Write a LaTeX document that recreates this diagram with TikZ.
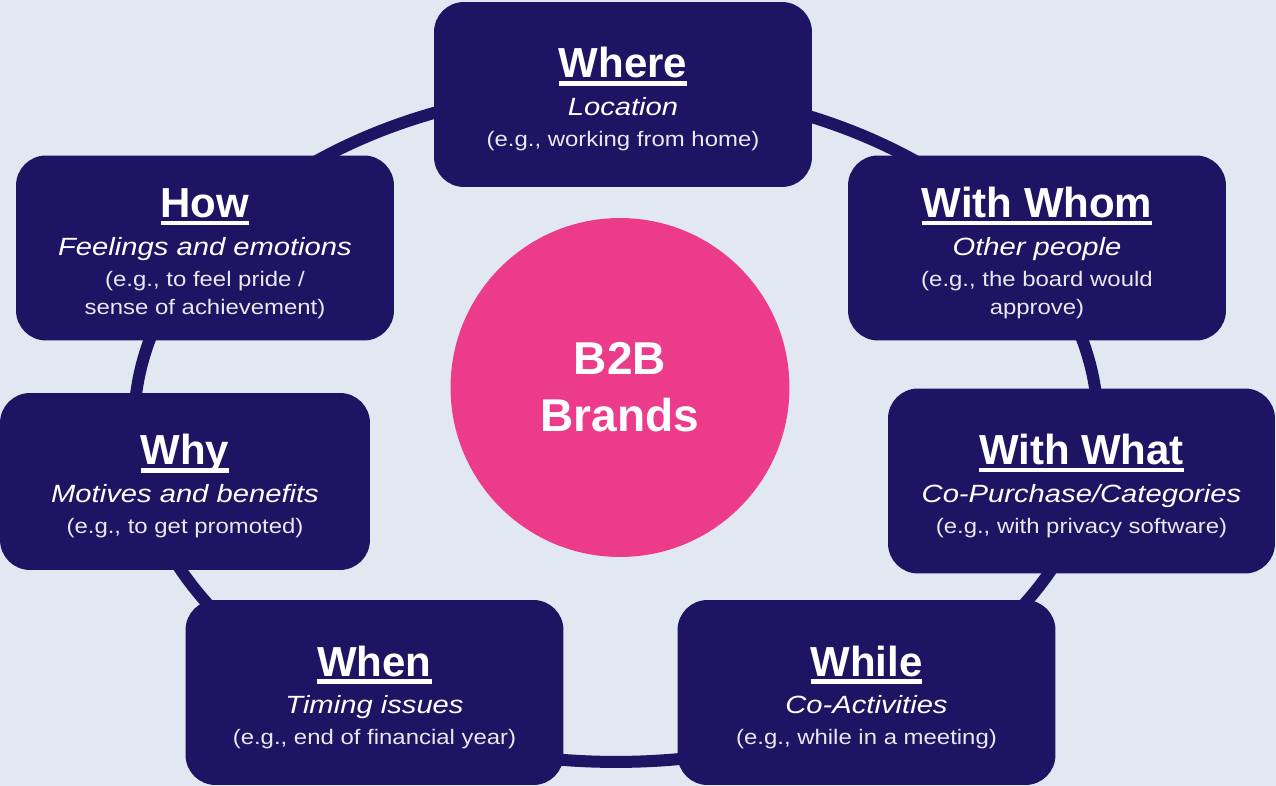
\documentclass[tikz,border=0pt]{standalone}
\usepackage{fontspec}
\setmainfont{Liberation Sans}
\newfontface\titleface{Liberation Sans Bold}
\newfontface\itemface{Liberation Sans Italic}[FakeStretch=1.17]
\newfontface\egface{Liberation Sans}[FakeStretch=1.14]
\definecolor{bgblue}{HTML}{E1E8F2}
\definecolor{navy}{HTML}{1D1563}
\definecolor{brandpink}{HTML}{ED3B8C}
% underline of the card titles
\newsavebox{\ulbox}
\newcommand{\ulword}[1]{\sbox{\ulbox}{#1}\rlap{\rule[-0.155cm]{\wd\ulbox}{0.085cm}}\usebox{\ulbox}}
% struts fix the baseline distances inside the cards
\newcommand{\titlestrut}{\rule[-0.34cm]{0pt}{1.23cm}}
\newcommand{\itstrut}{\rule[-0.22cm]{0pt}{0.64cm}}
\newcommand{\egstrut}{\rule[-0.17cm]{0pt}{0.57cm}}
\newcommand{\cardtitle}[2]{\titlestrut{\fontsize{23.9pt}{0pt}\titleface\ulword{#1}}\\\itstrut{\fontsize{14.2pt}{0pt}\itemface #2}}
\newcommand{\eg}[1]{\egstrut{\fontsize{11.95pt}{0pt}\egface\color{white!90!navy}#1}}

\begin{document}
\begin{tikzpicture}[x=0.02cm, y=-0.02cm,
    card/.style={fill=navy, rounded corners=0.6cm, minimum width=7.56cm, minimum height=3.7cm,
      inner sep=0pt, align=center, text=white, font=\offinterlineskip},
    hub/.style={circle, fill=brandpink, minimum size=6.78cm, inner sep=0pt, text=white, align=center,
      font=\fontsize{26.2pt}{1.14cm}\selectfont\bfseries},
    ring/.style={draw=navy, line width=0.24cm}]
  \useasboundingbox (0,0) rectangle (1276,786);
  \fill[bgblue] (0,0) rectangle (1276,786);
  % ring behind the cards
  \draw[ring] (616,425) ellipse [x radius=9.64cm, y radius=6.74cm];
  % cards
  \node[card] (where) at (623,94.5) {\cardtitle{Where}{Location}\\\eg{(e.g., working from home)}};
  \node[card] (how) at (205,248) {\cardtitle{How}{Feelings and emotions}\\\eg{(e.g., to feel pride /}\\\eg{sense of achievement)}};
  \node[card] (withwhom) at (1037,248) {\cardtitle{With Whom}{Other people}\\\eg{(e.g., the board would}\\\eg{approve)}};
  \node[card, minimum width=7.4cm, minimum height=3.54cm] (why) at (185,481.5) {\cardtitle{Why}{Motives and benefits}\\\eg{(e.g., to get promoted)}};
  \node[card, minimum width=7.74cm] (withwhat) at (1081.5,481) {\cardtitle{With What}{Co-Purchase/Categories}\\\eg{(e.g., with privacy software)}};
  \node[card] (when) at (374.5,692.5) {\cardtitle{When}{Timing issues}\\\eg{(e.g., end of financial year)}};
  \node[card] (while) at (866.5,692.5) {\cardtitle{While}{Co-Activities}\\\eg{(e.g., while in a meeting)}};
  % centre
  \node[hub] (brands) at (620,387.5) {B2B\\Brands};
\end{tikzpicture}
\end{document}
